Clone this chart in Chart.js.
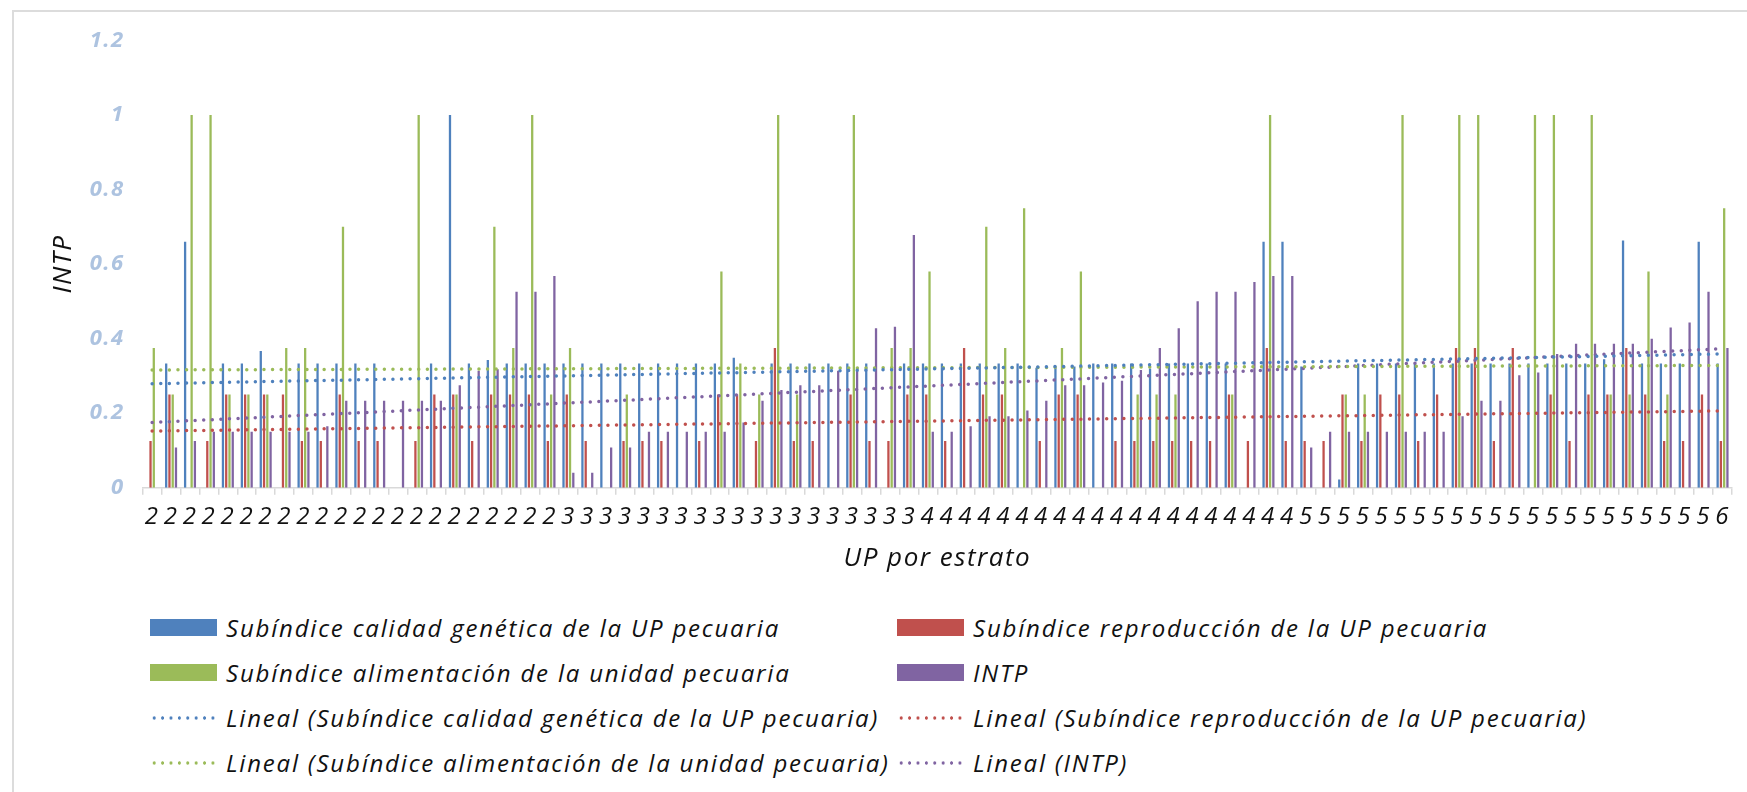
<!DOCTYPE html>
<html lang="es">
<head>
<meta charset="utf-8">
<title>INTP por UP</title>
<script src="https://cdn.jsdelivr.net/npm/chart.js@4"></script>
<style>
  html, body { margin: 0; padding: 0; background: #fff; }
  body { width: 1747px; height: 792px; position: relative; overflow: hidden; font-family: "Open Sans", sans-serif; }
  #frame { position: absolute; left: 12px; top: 10px; right: -4px; bottom: -4px; border: 2px solid #dcdcdc; }
  #chart { position: absolute; left: 0; top: 0; }
  #legend { position: absolute; left: 150px; top: 605px; display: grid; grid-template-columns: 747px 740px; grid-auto-rows: 45px; }
  .item { display: flex; align-items: center; font-style: italic; font-size: 24px; letter-spacing: 1.8px; color: #111; white-space: nowrap; }
  .sw { width: 67px; height: 17px; margin-right: 9px; flex: none; }
  .dots { height: 4px; background-repeat: repeat-x; background-size: 8.4px 4px; }
</style>
</head>
<body>
<div id="frame"></div>
<canvas id="chart" width="1747" height="600"></canvas>
<div id="legend"></div>
<script>
"use strict";

// UP labels: stratum of each livestock unit, left to right.
const estratos = [
  "2","2","2","2","2","2","2","2","2","2","2","2","2","2","2","2","2","2","2","2","2","2",
  "3","3","3","3","3","3","3","3","3","3","3","3","3","3","3","3","3","3","3",
  "4","4","4","4","4","4","4","4","4","4","4","4","4","4","4","4","4","4","4","4",
  "5","5","5","5","5","5","5","5","5","5","5","5","5","5","5","5","5","5","5","5","5","5",
  "6",
];

const calidadGenetica = [
  0, 0.333, 0.66, 0, 0.333, 0.333, 0.367, 0, 0.333, 0.333,
  0.333, 0.333, 0.333, 0, 0, 0.333, 1, 0.333, 0.343, 0.333,
  0.333, 0.333, 0.333, 0.333, 0.333, 0.333, 0.333, 0.333, 0.333, 0.333,
  0.333, 0.349, 0, 0.333, 0.333, 0.333, 0.333, 0.333, 0.333, 0,
  0.333, 0.333, 0.333, 0.333, 0.333, 0.333, 0.333, 0.322, 0.322, 0.325,
  0.333, 0.333, 0.333, 0.32, 0.333, 0.333, 0.333, 0.333, 0, 0.66,
  0.66, 0.325, 0, 0.022, 0.333, 0.333, 0.333, 0.333, 0.333, 0.333,
  0.333, 0.333, 0.333, 0.333, 0.333, 0.333, 0.333, 0.345, 0.663, 0.333,
  0.333, 0.333, 0.66, 0.333,
];

const reproduccion = [
  0.125, 0.25, 0, 0.125, 0.25, 0.25, 0.25, 0.25, 0.125, 0.125,
  0.25, 0.125, 0.125, 0, 0.125, 0.25, 0.25, 0.125, 0.25, 0.25,
  0.25, 0.125, 0.25, 0.125, 0, 0.125, 0.125, 0.125, 0, 0.125,
  0.25, 0.25, 0.125, 0.375, 0.125, 0.125, 0, 0.25, 0.125, 0.125,
  0.25, 0.25, 0.125, 0.375, 0.25, 0.25, 0, 0.125, 0.25, 0.25,
  0, 0.125, 0.125, 0.125, 0.125, 0.125, 0.125, 0.25, 0.125, 0.375,
  0.125, 0.125, 0.125, 0.25, 0.125, 0.25, 0.25, 0.125, 0.25, 0.375,
  0.375, 0.125, 0.375, 0, 0.25, 0.125, 0.25, 0.25, 0.375, 0.25,
  0.125, 0.125, 0.25, 0.125,
];

const alimentacion = [
  0.375, 0.25, 1, 1, 0.25, 0.25, 0.25, 0.375, 0.375, 0,
  0.7, 0, 0, 0, 1, 0, 0.25, 0, 0.7, 0.375,
  1, 0.25, 0.375, 0, 0, 0.25, 0, 0, 0, 0,
  0.58, 0.333, 0.25, 1, 0.25, 0, 0, 1, 0, 0.375,
  0.375, 0.58, 0, 0, 0.7, 0.375, 0.75, 0, 0.375, 0.58,
  0, 0, 0.25, 0.25, 0.25, 0, 0, 0.25, 0, 1,
  0, 0, 0, 0.25, 0.25, 0, 1, 0, 0, 1,
  1, 0, 0, 1, 1, 0, 1, 0.25, 0.25, 0.58,
  0.25, 0, 0, 0.75,
];

const intp = [
  0, 0.108, 0.125, 0.15, 0.15, 0.15, 0.15, 0.15, 0.15, 0.165,
  0.233, 0.233, 0.233, 0.233, 0.233, 0.233, 0.275, 0.314, 0.318, 0.526,
  0.526, 0.568, 0.04, 0.04, 0.108, 0.108, 0.15, 0.15, 0.15, 0.15,
  0.15, 0.175, 0.233, 0.262, 0.275, 0.275, 0.314, 0.314, 0.428, 0.432,
  0.678, 0.15, 0.15, 0.165, 0.192, 0.192, 0.207, 0.233, 0.275, 0.275,
  0.282, 0.287, 0.316, 0.375, 0.428, 0.5, 0.526, 0.526, 0.552, 0.568,
  0.568, 0.108, 0.15, 0.15, 0.15, 0.15, 0.15, 0.15, 0.15, 0.192,
  0.233, 0.233, 0.302, 0.309, 0.359, 0.386, 0.386, 0.386, 0.386, 0.4,
  0.43, 0.443, 0.526, 0.375,
];

// Linear trend lines: value at the first and at the last UP.
const tendCalidad = [0.279, 0.359];
const tendReproduccion = [0.152, 0.206];
const tendAlimentacion = [0.316, 0.328];
const tendIntp = [0.175, 0.373];

const AZUL = "#4f81bd", ROJO = "#c0504d", VERDE = "#9bbb59", MORADO = "#8064a2";

function ends(pair) {
  return estratos.map((_, i) => (i === 0 ? pair[0] : i === estratos.length - 1 ? pair[1] : null));
}

function barSet(label, data, color) {
  return { type: "bar", label, data, backgroundColor: color, borderWidth: 0, order: 2 };
}

function trendSet(label, pair, color) {
  return {
    type: "line", label, data: ends(pair), borderColor: color, backgroundColor: color,
    borderWidth: 3.5, borderDash: [0, 8.6], borderCapStyle: "round", pointRadius: 0,
    spanGaps: true, fill: false, order: 1, isTrend: true,
  };
}

const fontFam = '"Open Sans", sans-serif';

// the original uses a wide font; spread the canvas text a little to match
const wideText = {
  id: "wideText",
  beforeDraw(c) { c.ctx.letterSpacing = "1.5px"; },
};

const chart = new Chart(document.getElementById("chart"), {
  type: "bar",
  data: {
    labels: estratos,
    datasets: [
      barSet("Subíndice calidad genética de la UP pecuaria", calidadGenetica, AZUL),
      barSet("Subíndice reproducción de la UP pecuaria", reproduccion, ROJO),
      barSet("Subíndice alimentación de la unidad pecuaria", alimentacion, VERDE),
      barSet("INTP", intp, MORADO),
      trendSet("Lineal (Subíndice calidad genética de la UP pecuaria)", tendCalidad, AZUL),
      trendSet("Lineal (Subíndice reproducción de la UP pecuaria)", tendReproduccion, ROJO),
      trendSet("Lineal (Subíndice alimentación de la unidad pecuaria)", tendAlimentacion, VERDE),
      trendSet("Lineal (INTP)", tendIntp, MORADO),
    ],
  },
  plugins: [wideText],
  options: {
    responsive: false,
    animation: false,
    datasets: { bar: { categoryPercentage: 0.69, barPercentage: 0.7 } },
    layout: { padding: { top: 40.5, right: 15, left: 0, bottom: 0 } },
    plugins: { legend: { display: false }, tooltip: { enabled: false } },
    scales: {
      x: {
        grid: { offset: true, drawOnChartArea: false, drawTicks: true, tickLength: 7, color: "#d9d9d9", lineWidth: 1.5 },
        border: { color: "#d9d9d9", width: 1.5 },
        ticks: { autoSkip: false, maxRotation: 0, color: "#111", padding: 8, font: { family: fontFam, size: 24, style: "italic" } },
        title: { display: true, text: "UP por estrato", color: "#111", padding: { top: 0, bottom: 26 }, font: { family: fontFam, size: 26, style: "italic" } },
        afterFit: (s) => { s.height = 112.3; },
      },
      y: {
        min: 0, max: 1.2,
        grid: { display: false, drawTicks: false },
        border: { display: false },
        ticks: {
          stepSize: 0.2, padding: 18, color: "#adc3e0",
          font: { family: fontFam, size: 22, style: "italic", weight: "bold" },
          callback: (v) => String(+v.toFixed(1)),
        },
        title: { display: true, text: "INTP", color: "#111", padding: { top: 48, bottom: 0 }, font: { family: fontFam, size: 26, style: "italic" } },
        afterFit: (s) => { s.width = 142.7; },
      },
    },
  },
});

// Two-column legend, built from the chart's datasets.
const legend = document.getElementById("legend");
chart.data.datasets.forEach((ds) => {
  const item = document.createElement("div");
  item.className = "item";
  const sw = document.createElement("span");
  if (ds.isTrend) {
    sw.className = "sw dots";
    sw.style.backgroundImage = `radial-gradient(circle, ${ds.borderColor} 1.4px, transparent 1.9px)`;
  } else {
    sw.className = "sw";
    sw.style.background = ds.backgroundColor;
  }
  const txt = document.createElement("span");
  txt.textContent = ds.label;
  item.append(sw, txt);
  legend.appendChild(item);
});
</script>
</body>
</html>
